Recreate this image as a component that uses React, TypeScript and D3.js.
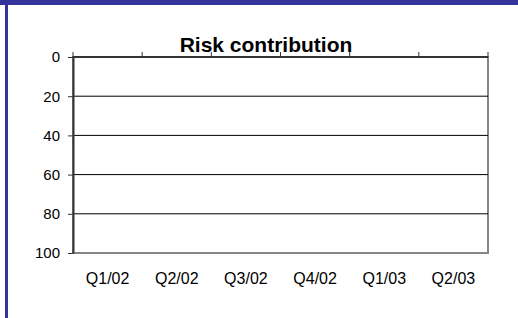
import { useEffect, useRef } from 'react';
import * as d3 from 'd3';

const categories = ['Q1/02', 'Q2/02', 'Q3/02', 'Q4/02', 'Q1/03', 'Q2/03'];
const yTicks = [0, 20, 40, 60, 80, 100];
// no values plotted in the source chart
const riskValues: number[] = [];

const FONT = 'Arial, "Liberation Sans", sans-serif';

export default function App() {
  const svgRef = useRef<SVGSVGElement | null>(null);

  useEffect(() => {
    const el = svgRef.current;
    if (!el) return;
    d3.select(el).selectAll('*').remove();
    const svg = d3.select(el);

    const plot = { left: 73, right: 488, top: 57, bottom: 253 };

    const x = d3.scaleBand<string>().domain(categories).range([plot.left, plot.right]);
    const y = d3.scaleLinear().domain([0, 100]).range([plot.top, plot.bottom]);

    // frame decoration
    svg.append('rect').attr('x', 0).attr('y', 0).attr('width', 518).attr('height', 5).attr('fill', '#333399');
    svg.append('rect').attr('x', 5).attr('y', 0).attr('width', 3).attr('height', 318).attr('fill', '#333399');

    // plot area border (grey right/bottom)
    svg.append('rect')
      .attr('x', plot.left).attr('y', plot.top)
      .attr('width', plot.right - plot.left).attr('height', plot.bottom - plot.top)
      .attr('fill', 'white')
      .attr('stroke', '#868686')
      .attr('stroke-width', 2);

    // gridlines
    svg.append('g')
      .selectAll('line')
      .data(yTicks.slice(1, -1))
      .join('line')
      .attr('x1', plot.left).attr('x2', plot.right)
      .attr('y1', (d) => y(d)).attr('y2', (d) => y(d))
      .attr('stroke', '#000')
      .attr('stroke-width', 1);

    // bars (none in source)
    svg.append('g')
      .selectAll('rect')
      .data(riskValues)
      .join('rect')
      .attr('x', (_d, i) => x(categories[i]) ?? 0)
      .attr('width', x.bandwidth())
      .attr('y', y(0))
      .attr('height', (d) => y(d) - y(0))
      .attr('fill', '#9999ff');

    // top category axis line with boundary ticks
    const bounds = [...categories.map((c) => x(c) ?? 0), plot.right];
    svg.append('line')
      .attr('x1', plot.left).attr('x2', plot.right)
      .attr('y1', plot.top).attr('y2', plot.top)
      .attr('stroke', '#333').attr('stroke-width', 2);
    svg.append('g')
      .selectAll('line')
      .data(bounds)
      .join('line')
      .attr('x1', (d) => d).attr('x2', (d) => d)
      .attr('y1', plot.top - 5).attr('y2', plot.top)
      .attr('stroke', '#333').attr('stroke-width', 1);

    // left value axis
    const yAxis = svg.append('g')
      .attr('transform', `translate(${plot.left},0)`)
      .call(d3.axisLeft(y).tickValues(yTicks).tickSize(5).tickSizeOuter(0).tickPadding(8));
    yAxis.select('.domain').attr('stroke', '#333').attr('stroke-width', 2);
    yAxis.selectAll('.tick line').attr('stroke', '#333');
    yAxis.selectAll('text')
      .attr('font-family', FONT)
      .attr('font-size', '15px')
      .attr('fill', '#000');

    // category labels under the plot
    const xAxis = svg.append('g')
      .attr('transform', `translate(0,${plot.bottom})`)
      .call(d3.axisBottom(x).tickSize(0).tickPadding(20));
    xAxis.select('.domain').remove();
    xAxis.selectAll('text')
      .attr('font-family', FONT)
      .attr('font-size', '16px')
      .attr('fill', '#000');

    // title
    svg.append('text')
      .attr('x', 266)
      .attr('y', 52)
      .attr('text-anchor', 'middle')
      .attr('font-family', FONT)
      .attr('font-size', '21px')
      .attr('font-weight', 'bold')
      .attr('fill', '#000')
      .text('Risk contribution');
  }, []);

  return (
    <svg
      ref={svgRef}
      width={518}
      height={318}
      style={{ position: 'absolute', left: 0, top: 0, background: '#fff' }}
    />
  );
}
